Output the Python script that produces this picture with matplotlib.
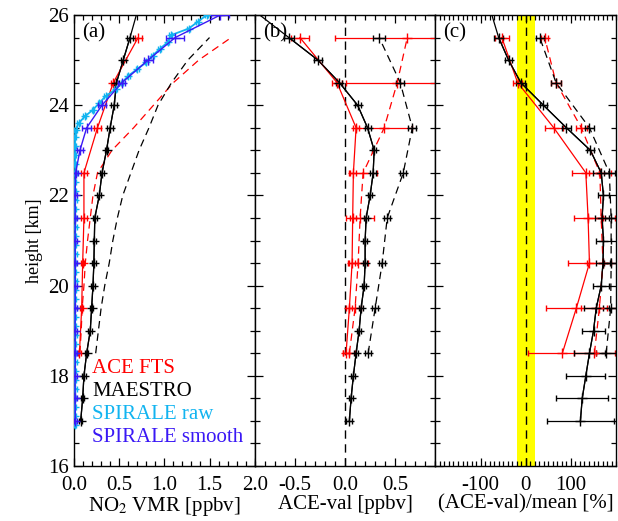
#!/usr/bin/env python3
"""
NO2 profiles: ACE-FTS, MAESTRO and SPIRALE (raw / smoothed), with
absolute and relative differences.  Three panels sharing the height axis.
"""

import matplotlib
matplotlib.use('Agg')
import matplotlib.pyplot as plt
from matplotlib.ticker import MultipleLocator, FormatStrFormatter


# ===================== DATA =====================

# MAESTRO grid (0.5 km), last point only continues the line to the top
H_MAESTRO = [17.0, 17.5, 18.0, 18.5, 19.0, 19.5, 20.0, 20.5, 21.0, 21.5,
             22.0, 22.5, 23.0, 23.5, 24.0, 24.5, 25.0, 25.5, 26.0]
# ACE grid (1 km)
H_ACE = [18.5, 19.5, 20.5, 21.5, 22.5, 23.5, 24.5, 25.5]
# dashed profiles of panel (a)
H_DASH = [18.5, 19.0, 19.5, 20.0, 20.5, 21.0, 21.5, 22.0, 22.5, 23.0,
          23.5, 24.0, 24.5, 25.0, 25.5]
# SPIRALE raw sampling
H_RAW = [26.0, 25.85, 25.7, 25.55, 25.4, 25.25, 25.1, 24.95, 24.8, 24.65,
         24.5, 24.35, 24.2, 24.05, 23.9, 23.75, 23.6, 23.45, 23.3, 23.1,
         22.9, 22.7, 22.5, 22.3, 22.1, 21.9, 21.7, 21.5, 21.3, 21.1,
         20.9, 20.7, 20.5, 20.3, 20.1, 19.9, 19.7, 19.5, 19.3, 19.1,
         18.9, 18.7, 18.5, 18.3, 18.1, 17.9, 17.7, 17.5, 17.3, 17.1, 16.9]

# panel (a): NO2 VMR [ppbv]
maestro_vmr = [0.074, 0.096, 0.11, 0.14, 0.18, 0.195, 0.21, 0.22, 0.225, 0.23,
               0.28, 0.31, 0.36, 0.40, 0.445, 0.47, 0.545, 0.62, 0.69]
maestro_err = [0.02, 0.02, 0.02, 0.02, 0.02, 0.02, 0.02, 0.02, 0.02, 0.02,
               0.02, 0.02, 0.02, 0.03, 0.03, 0.03, 0.03, 0.03, 0.03]
ace_vmr = [0.06, 0.085, 0.096, 0.11, 0.11, 0.26, 0.435, 0.71]
ace_err = [0.02, 0.02, 0.02, 0.03, 0.03, 0.04, 0.03, 0.04]
ace_dash_vmr = [0.065, 0.08, 0.09, 0.11, 0.125, 0.15, 0.18, 0.21, 0.26, 0.42,
                0.66, 0.88, 1.10, 1.38, 1.74]
maestro_dash_vmr = [0.24, 0.27, 0.30, 0.34, 0.39, 0.43, 0.48, 0.54, 0.63, 0.72,
                    0.83, 0.93, 1.08, 1.26, 1.50]
smooth_vmr = [0.015, 0.012, 0.012, 0.015, 0.012, 0.014, 0.013, 0.015, 0.012, 0.014,
              0.012, 0.018, 0.066, 0.14, 0.31, 0.53, 0.82, 1.12, 1.62]
smooth_err = [0.02, 0.02, 0.02, 0.02, 0.02, 0.02, 0.02, 0.02, 0.02, 0.02,
              0.02, 0.03, 0.03, 0.05, 0.04, 0.04, 0.05, 0.10, 0.10]
raw_vmr = [1.47, 1.37, 1.27, 1.07, 1.04, 0.95, 0.87, 0.80, 0.70, 0.60,
           0.53, 0.46, 0.35, 0.28, 0.21, 0.12, 0.05, 0.02, 0.012, 0.010,
           0.012, 0.011, 0.014, 0.012, 0.010, 0.013, 0.012, 0.011, 0.015, 0.012,
           0.010, 0.013, 0.012, 0.011, 0.014, 0.012, 0.010, 0.013, 0.011, 0.012,
           0.015, 0.012, 0.010, 0.013, 0.012, 0.011, 0.014, 0.012, 0.010, 0.012,
           0.011]
RAW_ERR = 0.015

# panel (b): ACE-val [ppbv]
b_maestro = [0.043, 0.06, 0.083, 0.11, 0.14, 0.16, 0.19, 0.20, 0.20, 0.21,
             0.25, 0.28, 0.29, 0.224, 0.125, -0.056, -0.27, -0.56, -0.85]
b_maestro_err = [0.03, 0.02, 0.02, 0.02, 0.02, 0.02, 0.02, 0.02, 0.02, 0.02,
                 0.02, 0.03, 0.02, 0.03, 0.03, 0.03, 0.04, 0.05, 0.05]
b_ace = [0.01, 0.043, 0.07, 0.076, 0.083, 0.11, -0.08, -0.45]
b_ace_err = [0.03, 0.03, 0.03, 0.03, 0.03, 0.03, 0.05, 0.09]
b_ace_dash = [0.043, 0.10, 0.13, 0.15, 0.18, 0.39, 0.52, 0.62]
b_ace_dash_err = [0.06, 0.06, 0.10, 0.14, 0.14, 0.28, 0.51, 0.72]
b_maestro_dash = [0.23, 0.30, 0.37, 0.42, 0.58, 0.67, 0.55, 0.34]
b_maestro_dash_err = [0.03, 0.03, 0.03, 0.03, 0.03, 0.04, 0.04, 0.06]

# panel (c): (ACE-val)/mean [%]
c_maestro = [121, 125, 133, 141, 150, 156, 167, 171, 172, 169,
             172, 167, 143, 90, 39, -11, -38, -60, -75]
c_maestro_err = [75, 58, 43, 35, 26, 28, 18, 16, 17, 15,
                 13, 18, 8, 10, 8, 10, 8, 10, 10]
c_ace = [81, 112, 141, 138, 133, 62, -18, -53]
c_ace_err = [75, 68, 47, 32, 30, 20, 10, 16]
c_ace_dash = [152, 163, 171, 167, 164, 123, 67, 42]
c_ace_dash_err = [45, 40, 35, 30, 25, 12, 10, 8]
c_maestro_dash = [178, 188, 189, 189, 185, 141, 67, 31]
c_maestro_dash_err = [22, 18, 16, 14, 12, 9, 10, 9]

LEGEND = [('ACE FTS', 'red'), ('MAESTRO', 'black'),
          ('SPIRALE raw', '#12b4f0'), ('SPIRALE smooth', '#3a18f5')]

# ===================== STYLE =====================

RED = 'red'
BLACK = 'black'
CYAN = '#12b4f0'
BLUE = '#3a18f5'
DASH = (0, (6, 4))
FS = 15

plt.rcParams['font.family'] = ['Liberation Serif', 'DejaVu Serif']
plt.rcParams['mathtext.fontset'] = 'stix'
plt.rcParams['axes.unicode_minus'] = False


def perfil(ax, x, h, err, color, ls='-', ms=7, lw=0.9, zorder=2):
    """Line with '+' markers and horizontal error bars with caps."""
    ax.errorbar(x, h, xerr=err, color=color, ls=ls, lw=lw, marker='+',
                ms=ms, mew=1.0, elinewidth=lw, capsize=2.5, capthick=lw,
                zorder=zorder)


def ejes(ax, xlim, major, minor, fmt):
    ax.set_xlim(*xlim)
    ax.set_ylim(16, 26)
    if isinstance(major, list):
        ax.set_xticks(major)
    else:
        ax.xaxis.set_major_locator(MultipleLocator(major))
    ax.xaxis.set_minor_locator(MultipleLocator(minor))
    ax.xaxis.set_major_formatter(FormatStrFormatter(fmt))
    ax.yaxis.set_major_locator(MultipleLocator(2))
    ax.yaxis.set_minor_locator(MultipleLocator(0.5))
    ax.tick_params(which='both', direction='in', top=True, right=True,
                   labelsize=FS, width=0.9)
    ax.tick_params(which='major', length=6)
    ax.tick_params(which='minor', length=3.5)
    ax.tick_params(axis='x', pad=7)
    for s in ax.spines.values():
        s.set_linewidth(1.0)


def main():
    fig = plt.figure(figsize=(6.18, 5.21), dpi=100)
    left, bottom = 74 / 618, 55 / 521
    w, h = 180.7 / 618, 451 / 521
    ax_a = fig.add_axes([left, bottom, w, h])
    ax_b = fig.add_axes([left + w, bottom, w, h], sharey=ax_a)
    ax_c = fig.add_axes([left + 2 * w, bottom, w, h], sharey=ax_a)

    # ---- (a) ----
    ax_a.plot(ace_dash_vmr, H_DASH, color=RED, ls=DASH, lw=0.9)
    ax_a.plot(maestro_dash_vmr, H_DASH, color=BLACK, ls=DASH, lw=0.9)
    perfil(ax_a, ace_vmr, H_ACE, ace_err, RED)
    ax_a.plot(maestro_vmr, H_MAESTRO, color=BLACK, lw=0.9)
    perfil(ax_a, maestro_vmr[:-1], H_MAESTRO[:-1], maestro_err[:-1], BLACK)
    perfil(ax_a, raw_vmr, H_RAW, RAW_ERR, CYAN, ms=6, lw=1.3, zorder=3)
    perfil(ax_a, smooth_vmr, H_MAESTRO, smooth_err, BLUE, lw=1.0, zorder=4)
    ejes(ax_a, (0, 2.0), 0.5, 0.1, '%.1f')
    ax_a.set_xlabel('NO$_2$ VMR [ppbv]', fontsize=FS, labelpad=0)
    ax_a.set_ylabel('height [km]', fontsize=13, labelpad=4)
    for i, (txt, col) in enumerate(LEGEND):
        ax_a.text(0.10, 0.217 - i * 0.051, txt, color=col, fontsize=FS,
                  transform=ax_a.transAxes, va='center', ha='left')

    # ---- (b) ----
    ax_b.axvline(0, color=BLACK, ls=DASH, lw=1.0)
    perfil(ax_b, b_ace_dash, H_ACE, b_ace_dash_err, RED, ls=DASH)
    perfil(ax_b, b_maestro_dash, H_ACE, b_maestro_dash_err, BLACK, ls=DASH)
    perfil(ax_b, b_ace, H_ACE, b_ace_err, RED)
    ax_b.plot(b_maestro, H_MAESTRO, color=BLACK, lw=0.9)
    perfil(ax_b, b_maestro[:-1], H_MAESTRO[:-1], b_maestro_err[:-1], BLACK)
    ejes(ax_b, (-0.9, 0.9), [-0.5, 0.0, 0.5], 0.1, '%.1f')
    ax_b.set_xlabel('ACE-val [ppbv]', fontsize=FS, labelpad=0)

    # ---- (c) ----
    ax_c.axvspan(-20, 20, color='yellow', lw=0, zorder=0)
    ax_c.axvline(0, color=BLACK, ls=DASH, lw=1.0)
    perfil(ax_c, c_ace_dash, H_ACE, c_ace_dash_err, RED, ls=DASH)
    perfil(ax_c, c_maestro_dash, H_ACE, c_maestro_dash_err, BLACK, ls=DASH)
    perfil(ax_c, c_ace, H_ACE, c_ace_err, RED)
    ax_c.plot(c_maestro, H_MAESTRO, color=BLACK, lw=0.9)
    perfil(ax_c, c_maestro[:-1], H_MAESTRO[:-1], c_maestro_err[:-1], BLACK)
    ejes(ax_c, (-200, 200), [-100, 0, 100], 10, '%d')
    ax_c.set_xlabel('(ACE-val)/mean [%]', fontsize=FS, labelpad=0)

    for ax in (ax_b, ax_c):
        ax.tick_params(labelleft=False)

    for ax, lab in zip((ax_a, ax_b, ax_c), ('(a)', '(b)', '(c)')):
        ax.text(0.045, 0.96, lab, fontsize=FS, transform=ax.transAxes,
                va='center', ha='left', zorder=6)

    fig.savefig('out.png', dpi=100)
    plt.close(fig)


if __name__ == '__main__':
    main()
